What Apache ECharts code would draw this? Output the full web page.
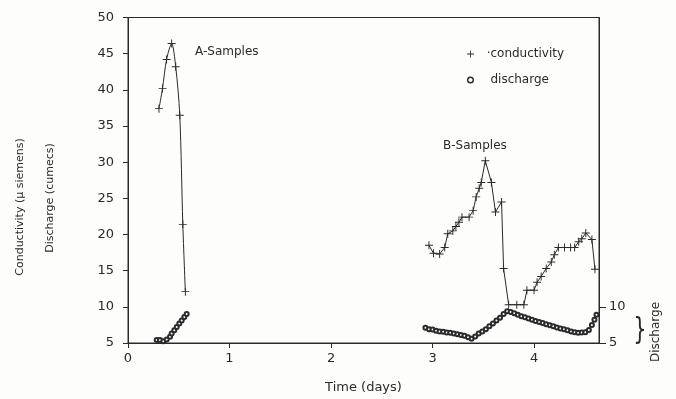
<!DOCTYPE html>
<html>
<head>
<meta charset="utf-8">
<script src="https://cdn.jsdelivr.net/npm/echarts@6/dist/echarts.min.js"></script>
<style>
    html, body { margin: 0; padding: 0; background: #fdfdfc; }
    #chart { width: 676px; height: 399px; }
</style>
</head>
<body>
<div id="chart"></div>
<script>
// time in days
var condADays = [0.305, 0.34, 0.38, 0.43, 0.47, 0.51, 0.54, 0.565];
var condAValues = [37.4, 40.2, 44.2, 46.4, 43.2, 36.5, 21.4, 12.1];

var condBDays = [2.965, 3.01, 3.07, 3.12, 3.15, 3.2, 3.23, 3.26, 3.29, 3.36, 3.4, 3.43, 3.46, 3.48, 3.52, 3.58, 3.62, 3.68, 3.7, 3.75, 3.83, 3.9, 3.93, 4.0, 4.03, 4.07, 4.12, 4.17, 4.2, 4.24, 4.3, 4.36, 4.4, 4.44, 4.47, 4.51, 4.57, 4.6];
var condBValues = [18.5, 17.4, 17.3, 18.2, 20.1, 20.5, 21.1, 21.7, 22.4, 22.4, 23.3, 25.2, 26.4, 27.2, 30.2, 27.2, 23.1, 24.5, 15.3, 10.3, 10.3, 10.3, 12.3, 12.3, 13.4, 14.2, 15.3, 16.2, 17.2, 18.2, 18.2, 18.2, 18.2, 19.0, 19.4, 20.2, 19.3, 15.2];

var disADays = [0.283, 0.315, 0.348, 0.381, 0.414, 0.43, 0.456, 0.48, 0.505, 0.529, 0.555, 0.578];
var disAValues = [5.4, 5.4, 5.25, 5.5, 5.85, 6.3, 6.75, 7.2, 7.7, 8.1, 8.6, 9.0];

var disBDays = [2.93, 2.965, 3.0, 3.035, 3.07, 3.105, 3.14, 3.175, 3.21, 3.245, 3.28, 3.315, 3.35, 3.385, 3.42, 3.455, 3.49, 3.525, 3.56, 3.595, 3.63, 3.665, 3.7, 3.735, 3.77, 3.805, 3.84, 3.875, 3.91, 3.945, 3.98, 4.015, 4.05, 4.085, 4.12, 4.155, 4.19, 4.225, 4.26, 4.295, 4.33, 4.365, 4.4, 4.435, 4.47, 4.505, 4.54, 4.57, 4.595, 4.615];
var disBValues = [7.1, 6.9, 6.85, 6.7, 6.6, 6.55, 6.45, 6.4, 6.3, 6.2, 6.1, 6.0, 5.8, 5.6, 5.9, 6.3, 6.6, 6.9, 7.3, 7.7, 8.1, 8.5, 9.0, 9.4, 9.3, 9.1, 8.9, 8.7, 8.55, 8.4, 8.2, 8.05, 7.9, 7.75, 7.6, 7.45, 7.3, 7.15, 7.0, 6.9, 6.75, 6.6, 6.5, 6.4, 6.45, 6.5, 6.8, 7.5, 8.2, 8.9];

var xTicks = [0, 1, 2, 3, 4];
var rightTicks = [5, 10];

var ink = "#2a2a2a";
var font = "DejaVu Sans";
var plusPath = "path://M4.4,0H5.6V4.4H10V5.6H5.6V10H4.4V5.6H0V4.4H4.4Z";
var ringPath = "path://M5,0A5,5,0,1,1,4.99,0ZM5,2A3,3,0,1,0,5.01,2Z";

function pairs(xs, ys) {
    return xs.map(function(x, i) {
        return [x, ys[i]];
    });
}

var chart = echarts.init(document.getElementById("chart"));

var condStyle = {
    type: "line",
    name: "conductivity",
    symbol: plusPath,
    symbolSize: 8,
    showSymbol: true,
    showAllSymbol: true,
    itemStyle: { color: ink },
    lineStyle: { color: ink, width: 1 }
};
var disStyle = {
    type: "line",
    name: "discharge",
    symbol: "emptyCircle",
    symbolSize: 4,
    showSymbol: true,
    showAllSymbol: true,
    itemStyle: { color: ink, borderWidth: 0.9 },
    lineStyle: { color: ink, width: 0.8 }
};

var option = {
    animation: false,
    backgroundColor: "#fdfdfc",
    textStyle: { fontFamily: font, color: ink },
    grid: {
        left: 128,
        right: 77,
        top: 17.5,
        bottom: 54,
        show: true,
        borderColor: ink,
        borderWidth: 1
    },
    legend: {
        orient: "vertical",
        left: 462,
        top: 43,
        itemWidth: 7,
        itemHeight: 7,
        itemGap: 14,
        textStyle: { fontFamily: font, fontSize: 12, color: ink },
        data: [
            { name: "conductivity", icon: plusPath },
            { name: "discharge", icon: ringPath, itemStyle: { color: ink, borderWidth: 0 } }
        ],
        formatter: function(name) {
            return name === "conductivity" ? "  \u00b7conductivity" : "   " + name;
        }
    },
    xAxis: {
        type: "value",
        min: 0,
        max: 4.64,
        interval: 1,
        name: "Time (days)",
        nameLocation: "middle",
        nameGap: 38,
        nameTextStyle: { fontFamily: font, fontSize: 13, color: ink },
        axisLine: { lineStyle: { color: ink, width: 1 } },
        axisTick: { show: true, length: 5, customValues: xTicks, lineStyle: { color: ink } },
        axisLabel: { customValues: xTicks, margin: 9, fontSize: 13, color: ink, fontFamily: font },
        splitLine: { show: false }
    },
    yAxis: [
        {
            type: "value",
            min: 5,
            max: 50,
            interval: 5,
            axisLine: { show: true, lineStyle: { color: ink, width: 1 } },
            axisTick: { show: true, length: 5, lineStyle: { color: ink } },
            axisLabel: { margin: 14, fontSize: 13, color: ink, fontFamily: font },
            splitLine: { show: false }
        },
        {
            type: "value",
            position: "right",
            min: 5,
            max: 50,
            axisLine: { show: true, lineStyle: { color: ink, width: 1 } },
            axisTick: { show: true, length: 7, customValues: rightTicks, lineStyle: { color: ink } },
            axisLabel: { customValues: rightTicks, margin: 10, fontSize: 13, color: ink, fontFamily: font },
            splitLine: { show: false }
        }
    ],
    graphic: [
        {
            type: "text", x: 20, y: 207, rotation: Math.PI / 2,
            style: { text: "Conductivity (\u03bc siemens)", fontFamily: font, fontSize: 11, fill: ink, align: "center", verticalAlign: "middle" }
        },
        {
            type: "text", x: 50, y: 198, rotation: Math.PI / 2,
            style: { text: "Discharge (cumecs)", fontFamily: font, fontSize: 11, fill: ink, align: "center", verticalAlign: "middle" }
        },
        {
            type: "text", x: 656, y: 332, rotation: Math.PI / 2,
            style: { text: "Discharge", fontFamily: font, fontSize: 12, fill: ink, align: "center", verticalAlign: "middle" }
        },
        {
            type: "text", x: 640, y: 331, scaleX: 0.7,
            style: { text: "}", fontFamily: font, fontSize: 30, fill: ink, align: "center", verticalAlign: "middle" }
        },
        {
            type: "text", x: 195, y: 52,
            style: { text: "A-Samples", fontFamily: font, fontSize: 12, fill: ink, verticalAlign: "middle" }
        },
        {
            type: "text", x: 443, y: 146,
            style: { text: "B-Samples", fontFamily: font, fontSize: 12, fill: ink, verticalAlign: "middle" }
        }
    ],
    series: [
        Object.assign({}, condStyle, { smooth: 0.3, data: pairs(condADays, condAValues) }),
        Object.assign({}, condStyle, { data: pairs(condBDays, condBValues) }),
        Object.assign({}, disStyle, { data: pairs(disADays, disAValues) }),
        Object.assign({}, disStyle, { data: pairs(disBDays, disBValues) })
    ]
};

chart.setOption(option);
window.addEventListener("resize", chart.resize);
</script>
</body>
</html>
